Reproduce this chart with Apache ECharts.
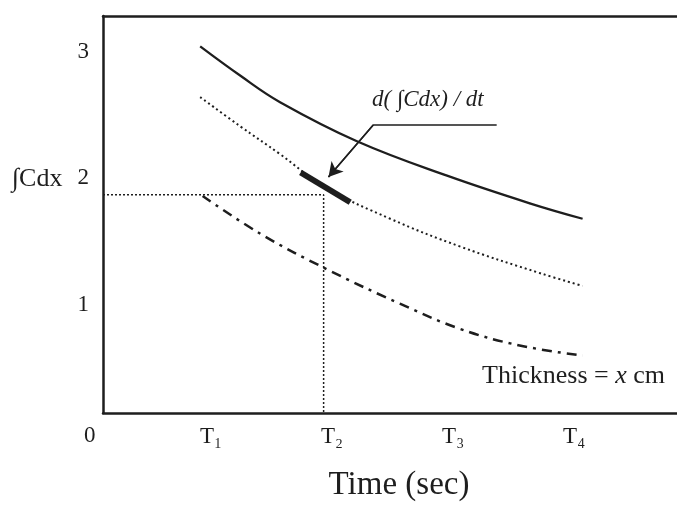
<!DOCTYPE html>
<html lang="en">
<head>
  <meta charset="UTF-8">
  <title>Cdx vs time</title>
  <style>html,body{margin:0;padding:0;background:#fff;}</style>
</head>
<body>
  <div id="chart" style="width:677px;height:507px;"></div>
  <script src="https://cdn.jsdelivr.net/npm/echarts@6/dist/echarts.min.js"></script>
  <script>
    // x in units of T (T1 = 1 ...), y = integral of C dx
    var xTicks = [1, 2, 3, 4];
    var xTickNames = ['T\u2081', 'T\u2082', 'T\u2083', 'T\u2084'];
    var yTicks = [1, 2, 3];

    var solidX = [0.91, 1.24, 1.57, 2.21, 2.95, 3.64, 4.07];
    var solidY = [3.04, 2.81, 2.60, 2.29, 2.02, 1.80, 1.68];

    var dotX = [0.91, 1.24, 1.57, 1.94, 2.48, 3.06, 3.72, 4.07];
    var dotY = [2.64, 2.41, 2.19, 1.93, 1.68, 1.46, 1.25, 1.15];

    var dashX = [0.93, 1.41, 1.96, 2.56, 3.06, 3.55, 4.07];
    var dashY = [1.86, 1.56, 1.28, 1.01, 0.81, 0.68, 0.60];

    // reading guide at T2 and the tangent piece
    var guideX = [0.107, 1.93, 1.93];
    var guideY = [1.87, 1.87, 0.147];
    var tangentX = [1.74, 2.15];
    var tangentY = [2.045, 1.81];

    // label leader: underline + arrow
    var leaderX = [3.36, 2.34, 1.97];
    var leaderY = [2.42, 2.42, 2.01];

    var font = '"Liberation Serif", "DejaVu Serif", serif';
    var ink = '#1e1e1e';

    function pairs(xs, ys) {
      return xs.map(function (x, i) { return [x, ys[i]]; });
    }

    var chart = echarts.init(document.getElementById('chart'));
    chart.setOption({
      backgroundColor: '#fff',
      animation: false,
      grid: { left: 103, top: 16, right: 0, bottom: 93 },
      xAxis: [{
        type: 'value', min: 0.107, max: 4.85,
        name: 'Time (sec)', nameLocation: 'middle', nameGap: 56,
        nameTextStyle: { fontFamily: font, fontSize: 33, color: ink, padding: [0, 0, 0, 18] },
        axisLine: { lineStyle: { color: ink, width: 2.5 } },
        axisTick: { show: false },
        splitLine: { show: false },
        axisLabel: {
          customValues: xTicks, margin: 12,
          fontFamily: font, fontSize: 23, color: ink,
          formatter: function (v) { return xTickNames[xTicks.indexOf(v)]; }
        }
      }, {
        type: 'value', min: 0.107, max: 4.85, position: 'top',
        axisLine: { lineStyle: { color: ink, width: 2.5 } },
        axisTick: { show: false }, axisLabel: { show: false }, splitLine: { show: false }
      }],
      yAxis: {
        type: 'value', min: 0.147, max: 3.28,
        axisLine: { lineStyle: { color: ink, width: 2.5 } },
        axisTick: { show: false },
        splitLine: { show: false },
        axisLabel: {
          customValues: yTicks, margin: 14,
          fontFamily: font, fontSize: 23, color: ink
        }
      },
      series: [{
        type: 'line', data: pairs(solidX, solidY), smooth: 0.4, symbol: 'none',
        lineStyle: { color: ink, width: 2.3 }
      }, {
        type: 'line', data: pairs(dotX, dotY), smooth: 0.4, symbol: 'none',
        lineStyle: { color: ink, width: 2, type: [2, 3] }
      }, {
        type: 'line', data: pairs(dashX, dashY), smooth: 0.4, symbol: 'none',
        lineStyle: { color: ink, width: 2.5, type: [10, 6, 3, 6] }
      }, {
        type: 'line', data: pairs(guideX, guideY), symbol: 'none',
        lineStyle: { color: ink, width: 1.5, type: [2, 2] }
      }, {
        type: 'line', data: pairs(tangentX, tangentY), symbol: 'none',
        lineStyle: { color: ink, width: 6, cap: 'butt' }
      }, {
        type: 'line', data: pairs(leaderX, leaderY), symbol: 'none',
        lineStyle: { color: ink, width: 1.5 },
        markLine: {
          silent: true, symbol: ['none', 'arrow'], symbolSize: [12, 14],
          label: { show: false },
          lineStyle: { color: ink, width: 1.5, type: 'solid' },
          data: [[{ coord: [leaderX[1], leaderY[1]] }, { coord: [leaderX[2], leaderY[2]] }]]
        }
      }],
      graphic: [{
        type: 'text', left: 84, top: 424,
        style: { text: '0', font: '23px ' + font, fill: ink }
      }, {
        type: 'text', left: 12, top: 166,
        style: { text: '\u222BCdx', font: '26px ' + font, fill: ink }
      }, {
        type: 'text', left: 372, top: 88,
        style: { text: 'd( \u222BCdx) / dt', font: 'italic 23px ' + font, fill: ink }
      }, {
        type: 'text', right: 12, top: 363,
        style: {
          text: '{a|Thickness = }{b|x}{a| cm}',
          fill: ink,
          rich: {
            a: { fontFamily: font, fontSize: 26, color: ink },
            b: { fontFamily: font, fontSize: 26, fontStyle: 'italic', color: ink }
          }
        }
      }]
    });
  </script>
</body>
</html>
